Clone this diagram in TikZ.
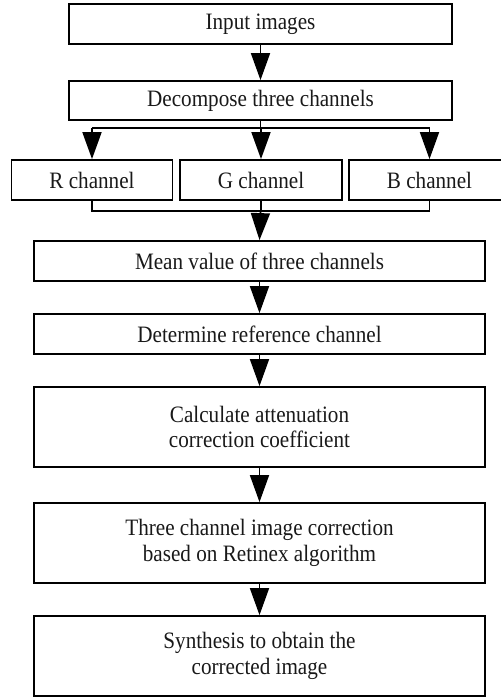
\documentclass[tikz,border=0pt]{standalone}
\usepackage{fontspec}
\setmainfont{Liberation Serif}[FakeStretch=0.9]
\usetikzlibrary{arrows.meta}
\begin{document}
\begin{tikzpicture}[x=1pt,y=-1pt,
  box/.style={draw=black,line width=1.8pt,inner sep=0pt,align=center,
    font=\fontsize{23.5}{25.5}\selectfont,text=black!90},
  conn/.style={line width=1.8pt},
  arr/.style={line width=1.8pt,-{Triangle[length=27pt,width=19pt]}}]
\useasboundingbox (0,0) rectangle (501,697);
\node[box,minimum width=383,minimum height=40] (inp) at (260.5,24) {Input images};
\node[box,minimum width=383,minimum height=39] (dec) at (260.5,100.5) {Decompose three channels};
\node[box,minimum width=161,minimum height=40] (r) at (92,180) {R channel};
\node[box,minimum width=162,minimum height=40] (g) at (261,180) {G channel};
\node[box,minimum width=161,minimum height=40] (b) at (429.5,180) {B channel};
\node[box,minimum width=451,minimum height=40] (mean) at (259.5,261) {Mean value of three channels};
\node[box,minimum width=451,minimum height=40] (det) at (259.5,334) {Determine reference channel};
\node[box,minimum width=451,minimum height=80] (calc) at (259.5,427) {Calculate attenuation\\correction coefficient};
\node[box,minimum width=451,minimum height=80] (ret) at (259.5,543) {Three channel image correction\\based on Retinex algorithm};
\node[box,minimum width=451,minimum height=80] (syn) at (259.5,656) {Synthesis to obtain the\\corrected image};
\coordinate (s) at (260.5,128);
\coordinate (m) at (260.5,211);
\draw[arr] (inp) -- (dec);
\draw[conn] (dec.south) -- (s);
\draw[conn] (r.north|-s) -- (b.north|-s);
\draw[arr] (r.north|-s) -- (r.north);
\draw[arr] (g.north|-s) -- (g.north);
\draw[arr] (b.north|-s) -- (b.north);
\draw[conn] (r.south) -- (r.south|-m) -- (b.south|-m) -- (b.south);
\draw[conn] (g.south) -- (g.south|-m);
\draw[arr] (m) -- (mean.north);
\draw[arr] (mean) -- (det);
\draw[arr] (det) -- (calc);
\draw[arr] (calc) -- (ret);
\draw[arr] (ret) -- (syn);
\end{tikzpicture}
\end{document}
